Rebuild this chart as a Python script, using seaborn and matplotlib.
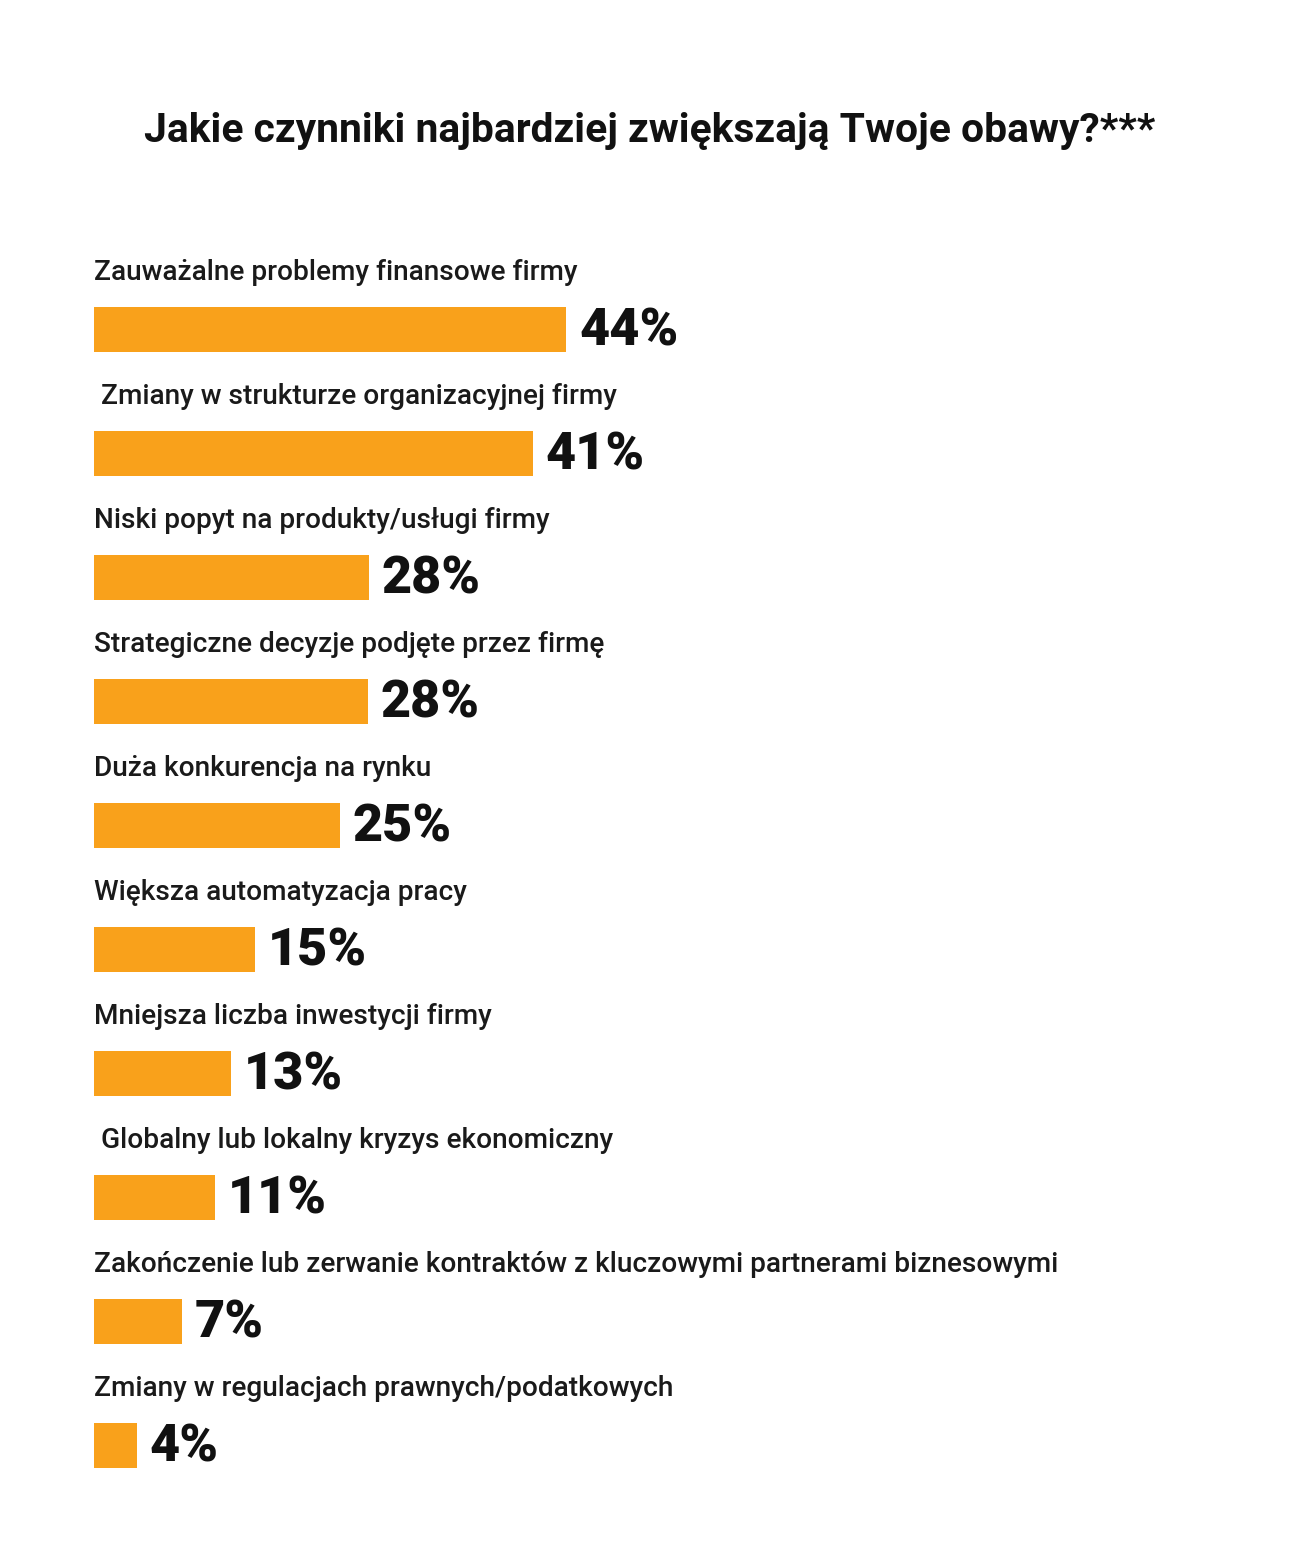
import pandas as pd
import matplotlib.pyplot as plt
import seaborn as sns

# Data
categories = [
    "Zauważalne problemy finansowe firmy",
    " Zmiany w strukturze organizacyjnej firmy",
    "Niski popyt na produkty/usługi firmy",
    "Strategiczne decyzje podjęte przez firmę",
    "Duża konkurencja na rynku",
    "Większa automatyzacja pracy",
    "Mniejsza liczba inwestycji firmy",
    " Globalny lub lokalny kryzys ekonomiczny",
    "Zakończenie lub zerwanie kontraktów z kluczowymi partnerami biznesowymi",
    "Zmiany w regulacjach prawnych/podatkowych",
]
value_labels = ["44%", "41%", "28%", "28%", "25%", "15%", "13%", "11%", "7%", "4%"]
# bar lengths as drawn in the picture (they are not exactly the printed figures)
bar_lengths = [44, 40.9, 25.6, 25.5, 22.9, 15.0, 12.8, 11.3, 8.2, 4.0]

title = "Jakie czynniki najbardziej zwiększają Twoje obawy?***"
bar_color = "#F9A11B"
text_color = "#1a1a1a"

df = pd.DataFrame({"kategoria": categories, "wartosc": bar_lengths})

sns.set_style("white")
plt.rcParams["font.family"] = ["Roboto", "DejaVu Sans"]

W, H = 1300, 1541
fig = plt.figure(figsize=(W / 100, H / 100), dpi=100)

# axes spans from the bar baseline to the right edge, full height
left_px = 94
px_per_unit = 10.727
ax = fig.add_axes([left_px / W, 0, (W - left_px) / W, 1])

sns.barplot(data=df, y="kategoria", x="wartosc", orient="h",
            color=bar_color, width=45 / 124, saturation=1, linewidth=0, ax=ax)

ax.set_xlim(0, (W - left_px) / px_per_unit)
ax.set_ylim((H - 329) / 124, -329 / 124)
ax.set_axis_off()

for i, (cat, lab, v) in enumerate(zip(categories, value_labels, bar_lengths)):
    ax.text(0, i - 57 / 124, cat, ha="left", va="center",
            fontsize=20.2, fontweight="medium", color=text_color)
    ax.text(v + 13 / px_per_unit, i + 2 / 124, lab, ha="left", va="center",
            fontsize=37.5, fontweight="black", color="#111111")

fig.text(0.5, 1 - 131 / H, title, ha="center", va="center",
         fontsize=29.3, fontweight="bold", color="#111111")

fig.savefig("out.png", dpi=100, facecolor="white")
